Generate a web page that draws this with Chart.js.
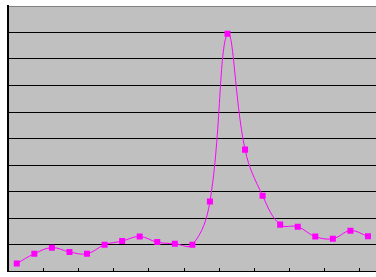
<!DOCTYPE html>
<html>
<head>
<meta charset="utf-8">
<script src="https://cdn.jsdelivr.net/npm/chart.js@4/dist/chart.umd.min.js"></script>
<style>
  html, body { margin: 0; padding: 0; background: #fff; overflow: hidden; }
  #wrap { width: 376px; height: 277px; overflow: hidden; }
</style>
</head>
<body>
<div id="wrap"><canvas id="chart1" width="381" height="277"></canvas></div>
<script>
// categories (labels are cut off in the original, so just numbered)
const categories = ['1','2','3','4','5','6','7','8','9','10','11','12','13','14','15','16','17','18','19','20','21'];
// series values (1 unit = 1 gridline)
const seriesValues = [0.28, 0.65, 0.88, 0.72, 0.65, 0.99, 1.13, 1.30, 1.09, 1.03, 0.99, 2.62, 8.95, 4.58, 2.84, 1.75, 1.67, 1.30, 1.22, 1.52, 1.31];
const yMin = 0;
const yMax = 10;
const yStep = 1;

// gray plot area + small inward tick marks on the x axis every 2 categories
const plotArea = {
  id: 'plotArea',
  beforeDraw(chart) {
    const { ctx, chartArea } = chart;
    ctx.save();
    ctx.fillStyle = '#fff';
    ctx.fillRect(0, 0, chart.width, chart.height);
    ctx.fillStyle = '#c0c0c0';
    ctx.fillRect(chartArea.left, chartArea.top, chartArea.right - chartArea.left, chartArea.bottom - chartArea.top);
    ctx.restore();
  },
  beforeDatasetsDraw(chart) {
    const { ctx, chartArea } = chart;
    const xs = chart.scales.x;
    const half = (xs.getPixelForValue(1) - xs.getPixelForValue(0)) / 2;
    ctx.save();
    ctx.strokeStyle = '#000';
    ctx.lineWidth = 1;
    ctx.beginPath();
    for (let k = 0; k <= categories.length; k += 2) {
      const x = Math.round(xs.getPixelForValue(k) - half) + 0.5;
      ctx.moveTo(x, chartArea.bottom - 3);
      ctx.lineTo(x, chartArea.bottom);
    }
    ctx.stroke();
    ctx.restore();
  }
};

const ctx = document.getElementById('chart1').getContext('2d');
const chart1 = new Chart(ctx, {
  type: 'line',
  data: {
    labels: categories,
    datasets: [{
      data: seriesValues,
      borderColor: '#ff00ff',
      backgroundColor: '#ff00ff',
      borderWidth: 1,
      tension: 0.4,
      fill: false,
      pointStyle: 'rect',
      pointRadius: 4.25,
      pointBorderWidth: 0,
      pointBackgroundColor: '#ff00ff',
    }],
  },
  plugins: [plotArea],
  options: {
    responsive: false,
    animation: false,
    layout: { padding: { left: 8, top: 6, right: 0, bottom: 6 } },
    plugins: { legend: { display: false }, tooltip: { enabled: false } },
    scales: {
      x: {
        offset: true,
        grid: { display: false, drawTicks: false },
        ticks: { display: false },
        border: { display: true, color: '#000', width: 1 },
      },
      y: {
        min: yMin,
        max: yMax,
        ticks: { display: false, stepSize: yStep },
        grid: {
          drawTicks: false,
          color: (c) => (c.tick.value === yMax ? '#808080' : (c.tick.value === yMin ? 'rgba(0,0,0,0)' : '#000')),
          lineWidth: 1,
        },
        border: { display: true, color: '#000', width: 2 },
      },
    },
  },
});
</script>
</body>
</html>
